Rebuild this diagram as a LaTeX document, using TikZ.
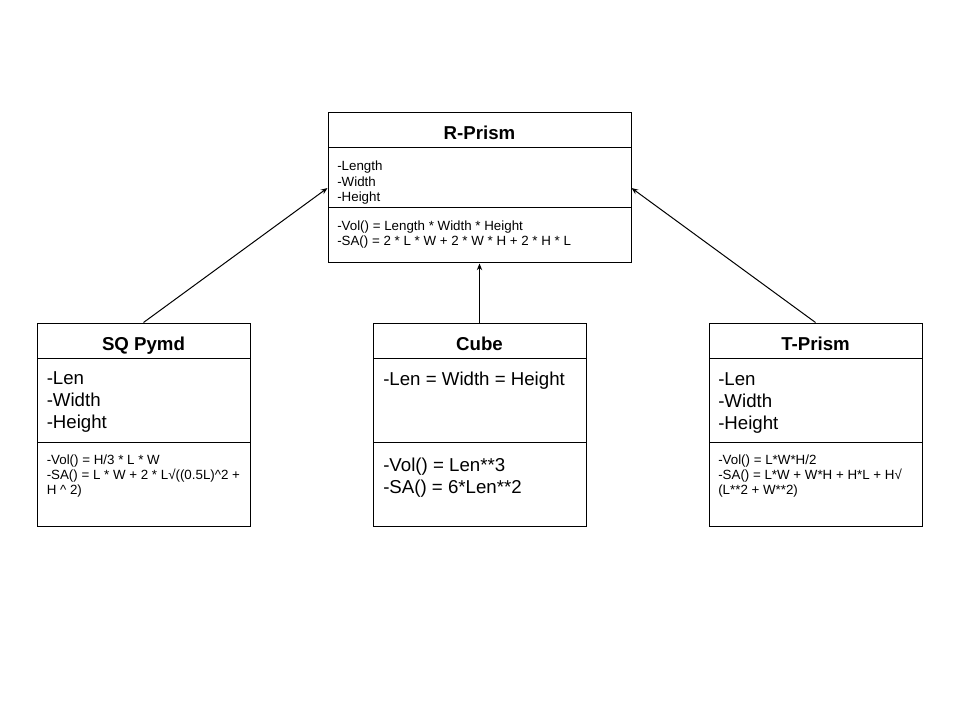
\documentclass[tikz,border=0pt]{standalone}
\usepackage{fontspec}
\setmainfont{Liberation Sans}
\usetikzlibrary{arrows.meta}
\begin{document}
\begin{tikzpicture}[x=0.75pt,y=-0.75pt,
  umlbox/.style={draw=black, line width=0.75pt, rectangle, inner sep=0pt},
  bigbox/.style={umlbox, minimum width=227.25pt, minimum height=112.5pt},
  sidebox/.style={umlbox, minimum width=159.75pt, minimum height=152.25pt},
  divider/.style={draw=black, line width=0.75pt},
  title/.style={anchor=base, inner sep=0pt, font=\fontsize{14}{16}\selectfont\bfseries},
  smalltxt/.style={anchor=base west, inner sep=0pt, align=left, font=\fontsize{10}{11.2}\selectfont},
  rptxt/.style={anchor=base west, inner sep=0pt, align=left, font=\fontsize{10}{11.8}\selectfont},
  bigtxt/.style={anchor=base west, inner sep=0pt, align=left, font=\fontsize{14}{16.2}\selectfont},
  arr/.style={draw=black, line width=0.75pt, -{Stealth[length=5pt,width=4pt]}}
]
\useasboundingbox (0,0) rectangle (960,720);
\fill[white] (0,0) rectangle (960,720);

% R-Prism
\node[bigbox] (rp) at (479.5,188) {};
\draw[divider] (328,148) -- (631,148);
\draw[divider] (328,208) -- (631,208);
\node[title] (rpt) at (479.5,140) {R-Prism};
\node[rptxt] (rpa) at (337,202) {-Length\\-Width\\-Height};
\node[rptxt] (rpm) at (337,246) {-Vol() = Length * Width * Height\\-SA() = 2 * L * W + 2 * W * H + 2 * H * L};

% SQ Pymd
\node[sidebox] (sq) at (143.5,424.5) {};
\draw[divider] (37,358) -- (250,358);
\draw[divider] (37,442) -- (250,442);
\node[title] (sqt) at (143.5,350.7) {SQ Pymd};
\node[bigtxt] (sqa) at (46.5,428) {-Len\\-Width\\-Height};
\node[smalltxt] (sqm) at (46.5,494) {-Vol() = H/3 * L * W\\-SA() = L * W + 2 * L√((0.5L)\^{}2 +\\H \^{} 2)};

% Cube
\node[sidebox] (cu) at (479.5,424.5) {};
\draw[divider] (373,358) -- (586,358);
\draw[divider] (373,442) -- (586,442);
\node[title] (cut) at (479.5,350.7) {Cube};
\node[bigtxt] (cua) at (383,385.5) {-Len = Width = Height};
\node[bigtxt] (cum) at (383,493) {-Vol() = Len**3\\-SA() = 6*Len**2};

% T-Prism
\node[sidebox] (tp) at (815.5,424.5) {};
\draw[divider] (709,358) -- (922,358);
\draw[divider] (709,442) -- (922,442);
\node[title] (tpt) at (815.5,350.7) {T-Prism};
\node[bigtxt] (tpa) at (718,429) {-Len\\-Width\\-Height};
\node[smalltxt] (tpm) at (718,494.5) {-Vol() = L*W*H/2\\-SA() = L*W + W*H + H*L + H√\\(L**2 + W**2)};

% connectors
\draw[arr] (sq.north) -- (rp.west);
\draw[arr] (cu.north) -- (rp.south);
\draw[arr] (tp.north) -- (rp.east);
\end{tikzpicture}
\end{document}
